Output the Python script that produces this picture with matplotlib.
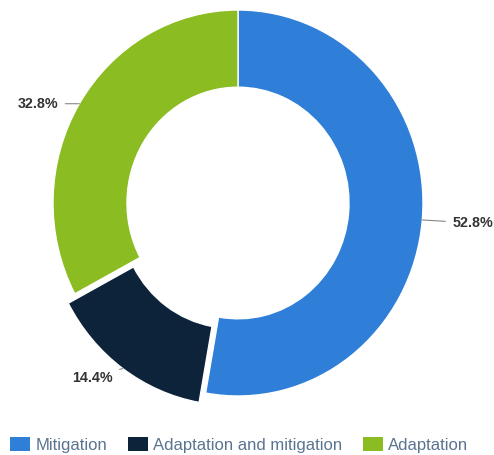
import numpy as np
import matplotlib
matplotlib.use("Agg")
import matplotlib.pyplot as plt
from matplotlib.patches import Rectangle

categories = ["Mitigation", "Adaptation and mitigation", "Adaptation"]
values = [52.8, 14.4, 32.8]
labels = ["52.8%", "14.4%", "32.8%"]
colors = ["#2f7ed8", "#0d233a", "#8bbc21"]
explode = [0, 0.06, 0]

W, H = 494, 455
fig = plt.figure(figsize=(W / 100, H / 100), dpi=100)

# circle centre (px from left/top) and radii in px
cx, cy = 238, 203
rx, ry = 185, 193
xl, yl = 1.25, 1.12
ax = fig.add_axes([(cx - rx * xl) / W, (H - cy - ry * yl) / H,
                   2 * rx * xl / W, 2 * ry * yl / H])
wedges, _ = ax.pie(values, colors=colors, startangle=90, counterclock=False,
                   explode=explode, radius=1.0,
                   wedgeprops=dict(width=0.4, edgecolor="white", linewidth=1))
ax.set_aspect("auto")
ax.set_xlim(-xl, xl)
ax.set_ylim(-yl, yl)
ax.axis("off")

# label offsets in px (dx, dy screen-down) from slice outer edge
offs = [(30, 3), (-10, 9), (-21, 0)]
px2pt = 72 / 100
for w, lab, ex, (dx, dy) in zip(wedges, labels, explode, offs):
    ang = np.deg2rad((w.theta1 + w.theta2) / 2)
    r = 1.0 + ex
    x, y = r * np.cos(ang), r * np.sin(ang)
    ha = "left" if dx > 0 else "right"
    ax.annotate(lab, xy=(x, y), xytext=(dx * px2pt, -dy * px2pt),
                textcoords="offset points", ha=ha, va="center",
                fontsize=10.3, fontweight="bold", color="#333333",
                family="Liberation Sans",
                arrowprops=dict(arrowstyle="-", color="#888888", lw=0.8,
                                shrinkA=3, shrinkB=0))

handles = [Rectangle((0, 0), 1, 1, facecolor=c, edgecolor="none") for c in colors]
leg = fig.legend(handles, categories, loc="center", bbox_to_anchor=(239 / W, (H - 445) / H),
                 ncol=3, frameon=False, handlelength=1.2, handleheight=0.95,
                 handletextpad=0.3, columnspacing=1.25,
                 prop=dict(family="Liberation Sans", size=12))
for t in leg.get_texts():
    t.set_color("#5a7490")

fig.savefig("out.png", dpi=100)
